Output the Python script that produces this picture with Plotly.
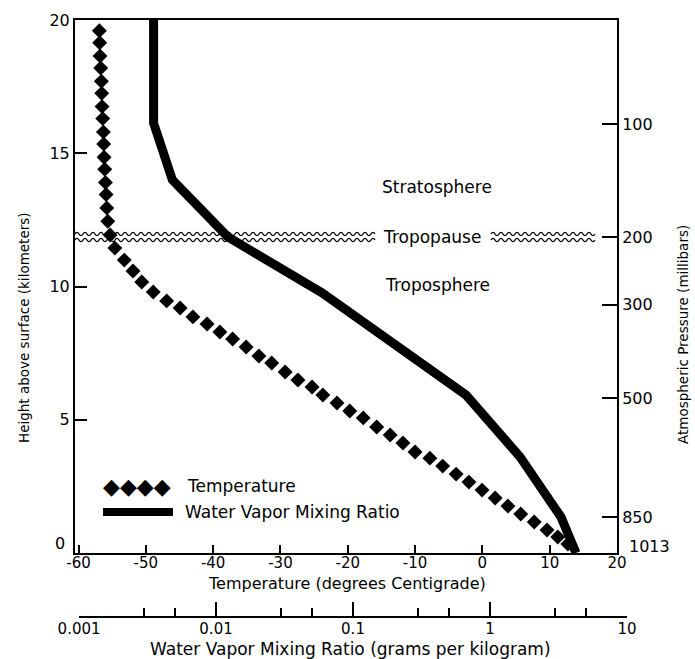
import plotly.graph_objects as go

# ---------------- data ----------------
# Temperature profile (diamonds)
temp_height_km = [19.6, 19.15, 18.65, 18.2, 17.7, 17.25, 16.75, 16.3, 15.8, 15.35,
                  14.85, 14.4, 13.9, 13.45, 12.95, 12.45,
                  11.93, 11.44, 10.99, 10.58, 10.17, 9.79, 9.46, 9.19, 8.86, 8.59,
                  8.29, 8.03, 7.73, 7.39, 7.13, 6.79, 6.49, 6.23, 5.93, 5.63,
                  5.33, 5.07, 4.73, 4.43, 4.13, 3.79, 3.56, 3.26, 2.96, 2.66,
                  2.36, 2.06, 1.76, 1.46, 1.16, 0.86, 0.60, 0.34]
temp_celsius = [-56.9, -56.85, -56.8, -56.7, -56.6, -56.55, -56.5, -56.4, -56.3, -56.25,
                -56.2, -56.1, -56.0, -55.9, -55.8, -55.65,
                -55.3, -54.6, -53.2, -51.9, -50.6, -48.9, -46.9, -44.9, -43.0, -40.9,
                -39.0, -37.1, -35.1, -33.2, -31.3, -29.3, -27.4, -25.3, -23.7, -21.6,
                -19.7, -17.7, -15.7, -13.7, -11.8, -10.0, -7.8, -5.9, -3.9, -2.0,
                -0.05, 1.9, 3.8, 5.7, 7.7, 9.6, 11.2, 12.7]

# Water vapour mixing ratio profile (thick line)
wv_height_km = [20.0, 16.13, 14.0, 11.86, 9.76, 5.93, 3.60, 1.35, 0.0]
wv_mixing_ratio = [0.0035, 0.0035, 0.0048, 0.0122, 0.0594, 0.668, 1.66, 3.30, 4.25]

# Axes ticks / labels
temp_ticks = [-60, -50, -40, -30, -20, -10, 0, 10, 20]
temp_tick_labels = ["-60", "-50", "-40", "-30", "-20", "-10", "0", "10", "20"]
height_ticks = [0, 5, 10, 15, 20]
height_tick_labels = ["0", "5", "10", "15", "20"]
pressure_heights_km = [0.0, 1.35, 5.82, 9.31, 11.86, 16.10]
pressure_labels = ["1013", "850", "500", "300", "200", "100"]
wv_major_ticks = [0.001, 0.01, 0.1, 1, 10]
wv_major_labels = ["0.001", "0.01", "0.1", "1", "10"]
wv_minor_ticks = [0.003, 0.005, 0.03, 0.05, 0.3, 0.5, 3, 5]

# ---------------- geometry helpers (layout only) ----------------
W, H = 695, 659
ML, MR, MT, MB = 75, 65, 20, 37
PW, PH = W - ML - MR, H - MT - MB
def fx(p):  # pixel x -> paper
    return (p - ML) / PW
def fy(p):  # pixel y -> paper
    return (H - MB - p) / PH

T0, T1 = -60.52, 20.0
X_LEFT, X_RIGHT = 75, 617
Y_TOP, Y_BOT = 20, 553
def tx(p):  # pixel x -> temperature units
    return T0 + (p - X_LEFT) * (T1 - T0) / (X_RIGHT - X_LEFT)
def hy(p):  # pixel y -> height units
    return (Y_BOT - p) * 20.0 / (Y_BOT - Y_TOP)

FONT = "DejaVu Sans"

fig = go.Figure()

fig.add_trace(go.Scatter(
    x=wv_mixing_ratio, y=wv_height_km, xaxis="x3", yaxis="y",
    mode="lines", line=dict(color="black", width=9),
    showlegend=False, hoverinfo="skip"))

fig.add_trace(go.Scatter(
    x=temp_celsius, y=temp_height_km, xaxis="x", yaxis="y",
    mode="markers", marker=dict(symbol="diamond", size=11.5, color="black",
                                line=dict(width=0)),
    showlegend=False, hoverinfo="skip"))

# invisible trace to instantiate right-hand pressure axis
fig.add_trace(go.Scatter(x=[None], y=[None], xaxis="x", yaxis="y2",
                         showlegend=False, hoverinfo="skip"))

tick_font = dict(family=FONT, size=16, color="black")

# the ground-level labels ("0" and "1013") sit slightly raised in the original,
# so they are written as annotations below; the axes carry the rest.
fig.update_layout(
    width=W, height=H,
    margin=dict(l=ML, r=MR, t=MT, b=MB, pad=0, autoexpand=False),
    paper_bgcolor="white", plot_bgcolor="rgba(0,0,0,0)",
    showlegend=False,
    xaxis=dict(domain=[0, fx(X_RIGHT)], range=[T0, T1], anchor="y",
               tickmode="array", tickvals=temp_ticks, ticktext=temp_tick_labels,
               ticks="inside", ticklen=8, tickwidth=1.5, tickcolor="black",
               ticklabelstandoff=-5,
               showline=True, linewidth=2, linecolor="black", mirror=True,
               showgrid=False, zeroline=False,
               tickfont=dict(family=FONT, size=15, color="black"),
               automargin=False),
    yaxis=dict(domain=[fy(Y_BOT), 1], range=[0, 20], anchor="x",
               tickmode="array", tickvals=height_ticks[1:],
               ticktext=height_tick_labels[1:],
               ticks="inside", ticklen=12, tickwidth=1.5, tickcolor="black",
               showline=True, linewidth=2, linecolor="black",
               showgrid=False, zeroline=False, tickfont=tick_font,
               automargin=False),
    yaxis2=dict(overlaying="y", side="right", anchor="x", range=[0, 20],
                tickmode="array", tickvals=pressure_heights_km[1:],
                ticktext=pressure_labels[1:],
                ticks="inside", ticklen=15, tickwidth=1.5, tickcolor="black",
                showline=True, linewidth=2, linecolor="black",
                showgrid=False, zeroline=False, tickfont=tick_font,
                automargin=False),
    xaxis3=dict(type="log", domain=[fx(79), fx(627)], range=[-3.0005, 1.0005],
                anchor="free", position=fy(617),
                tickmode="array", tickvals=wv_major_ticks, ticktext=wv_major_labels,
                ticks="inside", ticklen=14, tickwidth=1.5, tickcolor="black",
                ticklabelstandoff=-2,
                showline=True, linewidth=2, linecolor="black",
                showgrid=False, zeroline=False,
                tickfont=dict(family=FONT, size=15, color="black"),
                automargin=False,
                minor=dict(tickmode="array", tickvals=wv_minor_ticks,
                           ticks="inside", ticklen=8, tickwidth=1.5,
                           tickcolor="black", showgrid=False)),
)

# Wavy double line for the tropopause (decoration)
def wave_path(p0, p1, py, period=8.0, amp=1.6):
    parts = ["M %.4f,%.4f" % (tx(p0), hy(py))]
    p = p0
    sign = 1
    while p + period / 2 <= p1 + 0.01:
        cx = p + period / 4
        nx = p + period / 2
        parts.append("Q %.4f,%.4f %.4f,%.4f" % (tx(cx), hy(py - sign * 2 * amp),
                                                tx(nx), hy(py)))
        p = nx
        sign = -sign
    return " ".join(parts)

for (a, b) in [(75, 375), (491, 598)]:
    for yy in (234, 240):
        fig.add_shape(type="path", xref="x", yref="y",
                      path=wave_path(a, b, yy),
                      line=dict(color="black", width=1.4))

# Legend sample line
fig.add_shape(type="line", xref="x", yref="y",
              x0=tx(103), x1=tx(173), y0=hy(512), y1=hy(512),
              line=dict(color="black", width=8))

ann_font = dict(family=FONT, size=17, color="black")
annotations = [
    dict(text=height_tick_labels[0], x=fx(67), y=fy(543),
         xref="paper", yref="paper", xanchor="right", yanchor="middle",
         showarrow=False, font=tick_font),
    dict(text=pressure_labels[0], x=fx(627), y=fy(546),
         xref="paper", yref="paper", xanchor="left", yanchor="middle",
         showarrow=False, font=tick_font),
    dict(text="Stratosphere", x=tx(437), y=hy(187), xref="x", yref="y",
         showarrow=False, font=ann_font),
    dict(text="Troposphere", x=tx(437), y=hy(285), xref="x", yref="y",
         showarrow=False, font=ann_font),
    dict(text="Tropopause", x=tx(432), y=hy(237), xref="x", yref="y",
         showarrow=False, font=ann_font, bgcolor="white"),
    dict(text="\u25c6\u25c6\u25c6\u25c6", x=tx(137), y=hy(486), xref="x", yref="y",
         showarrow=False, font=dict(family=FONT, size=22, color="black")),
    dict(text="Temperature", x=tx(185), y=hy(486), xref="x", yref="y",
         xanchor="left", showarrow=False, font=ann_font),
    dict(text="Water Vapor Mixing Ratio", x=tx(183), y=hy(512), xref="x", yref="y",
         xanchor="left", showarrow=False, font=ann_font),
    dict(text="Temperature (degrees Centigrade)", x=fx(347), y=fy(583),
         xref="paper", yref="paper", xanchor="center", yanchor="middle",
         showarrow=False, font=dict(family=FONT, size=16, color="black")),
    dict(text="Water Vapor Mixing Ratio (grams per kilogram)", x=fx(350), y=fy(649),
         xref="paper", yref="paper", xanchor="center", yanchor="middle",
         showarrow=False, font=ann_font),
    dict(text="Height above surface (kilometers)", x=fx(24), y=fy(328),
         xref="paper", yref="paper", xanchor="center", yanchor="middle",
         textangle=-90, showarrow=False,
         font=dict(family=FONT, size=13.5, color="black")),
    dict(text="Atmospheric Pressure (millibars)", x=fx(683), y=fy(335),
         xref="paper", yref="paper", xanchor="center", yanchor="middle",
         textangle=-90, showarrow=False,
         font=dict(family=FONT, size=13.5, color="black")),
]
fig.update_layout(annotations=annotations)

fig.write_html("out.html")
